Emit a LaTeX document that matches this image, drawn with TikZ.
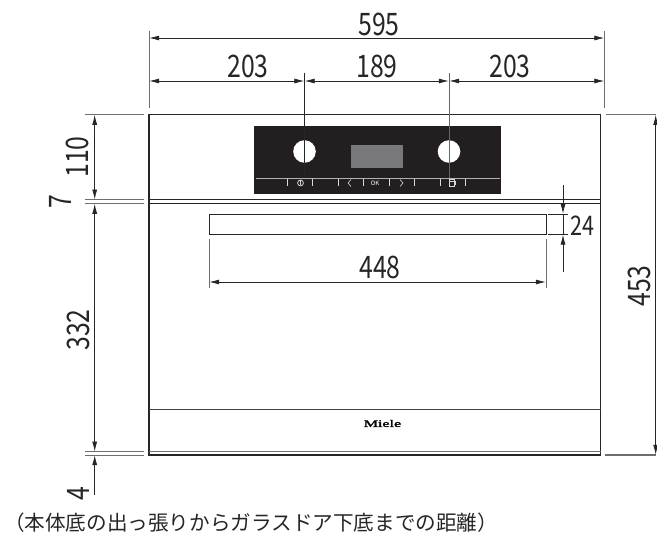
\documentclass[tikz,border=0pt]{standalone}
\usepackage{fontspec}
\setmainfont{Noto Sans CJK JP}
\newfontfamily\logofont[FakeBold=2]{Liberation Serif}
\usetikzlibrary{arrows.meta}
\definecolor{darkpanel}{RGB}{35,30,31}
\definecolor{screengray}{RGB}{120,120,122}
\definecolor{extgray}{RGB}{110,110,110}
\newcommand{\narrow}[1]{\scalebox{0.8}[1]{#1}}
\tikzset{
    dim/.style={{Latex[length=10pt,width=5pt]}-{Latex[length=10pt,width=5pt]}, line width=0.7pt, black!85},
    ext/.style={line width=0.8pt, extgray},
    body/.style={line width=1.1pt, black!85},
    measure/.style={font=\fontsize{31}{31}\selectfont, inner sep=0pt, black!85},
    measureup/.style={measure, rotate=90},
    smallmeasure/.style={measure, font=\fontsize{27}{27}\selectfont},
    keytick/.style={line width=0.8pt, white!85!black},
    anchorpt/.style={inner sep=0pt, minimum size=0pt}
}
\begin{document}
\begin{tikzpicture}[x=1pt,y=-1pt]
  \useasboundingbox (0,0) rectangle (657,538);

  % oven body
  \node[anchorpt] (body-tl) at (149,114.7) {};
  \node[anchorpt] (body-br) at (600.5,455) {};
  \draw[body] (body-tl) rectangle (body-br);
  \draw[body] (149,199.7) -- (600.5,199.7);
  \draw[body] (149,203.7) -- (600.5,203.7);
  \draw[line width=1.4pt, black!75] (149,409.5) -- (600.5,409.5);
  \draw[ext] (149,451.7) -- (600.5,451.7);
  \draw[line width=0.9pt, black!85] (209,214) rectangle (546,234.5);

  % panel
  \node[anchorpt] (panel-tl) at (254,125.5) {};
  \node[anchorpt] (panel-br) at (501,193.5) {};
  \fill[darkpanel] (panel-tl) rectangle (panel-br);
  \fill[screengray] (351,145) rectangle (403,168);
  \fill[white] (304.5,151.5) circle (11.3);
  \fill[white] (449,151.5) circle (11.3);
  \draw[line width=0.8pt, white!70!black] (256,178) -- (500,178);
  \foreach \x in {287,312,338,363,389,414,440,465}
    \draw[keytick] (\x,179) -- (\x,186);
  \draw[keytick] (300.5,183) circle (2.9);
  \draw[keytick] (300.5,179.5) -- (300.5,184.5);
  \draw[keytick, line width=0.6pt] (351,179.5) -- (348,183) -- (351,186.5);
  \draw[keytick, line width=0.6pt] (400,179.5) -- (403,183) -- (400,186.5);
  \node[white, inner sep=0pt, font=\fontsize{6}{6}\selectfont] (ok-key) at (375,183.5) {OK};
  \draw[keytick, line width=0.7pt] (449,179.5) rectangle (454,186.5);
  \draw[keytick, line width=0.7pt] (450,181) -- (455,181) -- (455,185);
  \node[inner sep=0pt, font=\logofont\fontsize{10}{10}\selectfont] (logo) at (382.5,423.5) {\scalebox{1.6}[1]{Miele}};

  % extension lines
  \foreach \x in {149,604.5}
    \draw[ext] (\x,31) -- (\x,108);
  \draw[line width=0.8pt, black!85] (304.5,73) -- (304.5,178);
  \draw[line width=0.8pt, black!60] (449,73) -- (449,178);
  \foreach \y in {114.7,199.7,203.7,451.7,455}
    \draw[ext] (85,\y) -- (144,\y);
  \draw[ext] (606,114.7) -- (656,114.7);
  \draw[ext, line width=1.4pt] (604.5,455) -- (656,455);
  \foreach \x in {209,546}
    \draw[ext] (\x,239) -- (\x,288);
  \draw[line width=0.7pt, black!85] (548,214) -- (568,214);
  \draw[line width=0.7pt, black!85] (548,234.5) -- (568,234.5);

  % dimensions
  \node[anchorpt] (w-l) at (149,38) {};
  \node[anchorpt] (w-r) at (604.5,38) {};
  \draw[dim] (w-l) -- (w-r);
  \node[anchorpt] (a-l) at (149,81) {};
  \node[anchorpt] (a-m) at (304.5,81) {};
  \node[anchorpt] (a-n) at (449,81) {};
  \node[anchorpt] (a-r) at (604.5,81) {};
  \draw[dim] (a-l) -- (a-m);
  \draw[dim] (a-m) -- (a-n);
  \draw[dim] (a-n) -- (a-r);
  \node[anchorpt] (h-l) at (209,282) {};
  \node[anchorpt] (h-r) at (546,282) {};
  \draw[dim] (h-l) -- (h-r);
  \node[anchorpt] (v-a) at (94.7,114.7) {};
  \node[anchorpt] (v-b) at (94.7,199.7) {};
  \node[anchorpt] (v-c) at (94.7,203.7) {};
  \node[anchorpt] (v-d) at (94.7,451.7) {};
  \node[anchorpt] (v-e) at (94.7,455) {};
  \coordinate (v-end) at (94.7,495);
  \draw[dim] (v-a) -- (v-b);
  \draw[dim] (v-c) -- (v-d);
  \draw[{Latex[length=10pt,width=5pt]}-, line width=0.7pt, black!85] (v-e) -- (v-end);
  \node[anchorpt] (r-t) at (655.7,114.7) {};
  \node[anchorpt] (r-b) at (655.7,455) {};
  \draw[dim] (r-t) -- (r-b);
  \coordinate (g-top) at (563,185);
  \node[anchorpt] (g-a) at (563,214) {};
  \node[anchorpt] (g-b) at (563,234.5) {};
  \coordinate (g-bot) at (563,272);
  \draw[-{Latex[length=10pt,width=5pt]}, line width=0.7pt, black!85] (g-top) -- (g-a);
  \draw[line width=0.7pt, black!85] (g-a) -- (g-b);
  \draw[-{Latex[length=10pt,width=5pt]}, line width=0.7pt, black!85] (g-bot) -- (g-b);

  % labels
  \node[measure] (t595) at (379,24) {\narrow{595}};
  \node[measure] (t203a) at (248,66) {\narrow{203}};
  \node[measure] (t189) at (377,66) {\narrow{189}};
  \node[measure] (t203b) at (510,66) {\narrow{203}};
  \node[measure] (t448) at (380,267) {\narrow{448}};
  \node[smallmeasure] (t24) at (582,226) {\narrow{24}};
  \node[measureup] (t110) at (77,157) {\narrow{110}};
  \node[measureup] (t7) at (60,201.5) {\narrow{7}};
  \node[measureup] (t332) at (78,330) {\narrow{332}};
  \node[measureup] (t4) at (78,494) {\narrow{4}};
  \node[measureup] (t453) at (639,286) {\narrow{453}};
  \node[inner sep=0pt, anchor=west, font=\fontsize{20.6}{20.6}\selectfont, black!85] (note) at (4,523) {（本体底の出っ張りからガラスドア下底までの距離）};
\end{tikzpicture}
\end{document}
